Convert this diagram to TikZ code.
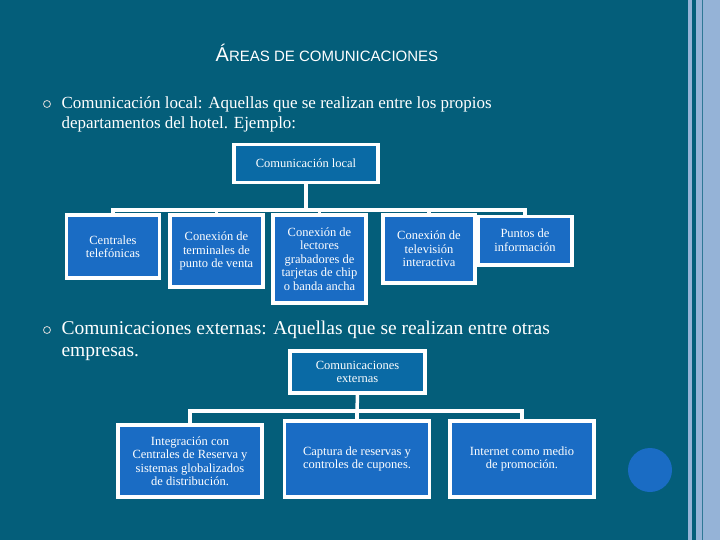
\documentclass[tikz,border=0pt]{standalone}
\usepackage{fontspec}
\setmainfont{Liberation Serif}
\newfontfamily\titlefont{Liberation Sans}
\begin{document}
\begin{tikzpicture}[x=1pt,y=-1pt,
  bx/.style={draw=white,line width=3.5pt,fill=boxc,text=white,align=center,inner sep=1pt,font=\fontsize{12.5}{13.5}\selectfont},
  ln/.style={draw=white,line width=3.5pt},
  bul/.style={draw=white!85!black,line width=0.8pt,circle,minimum size=7pt,inner sep=0pt}]
\definecolor{bg}{HTML}{045E7A}
\definecolor{boxc}{HTML}{1A6CC4}
\definecolor{topc}{HTML}{0A6AA5}
\definecolor{stripe}{HTML}{95B3D7}
\useasboundingbox (0,0) rectangle (720,540);
\fill[bg] (0,0) rectangle (720,540);
\fill[stripe] (688,0) rectangle (692,540);
\fill[stripe] (696,0) rectangle (720,540);
\draw[bg!70!stripe,line width=0.6pt] (702,0) -- (702,540);
\fill[boxc] (650,470) circle (22);
\node[text=white,font=\titlefont\fontsize{20}{22}\selectfont] (title) at (327,53) {Á{\fontsize{15}{18}\selectfont REAS DE COMUNICACIONES}};
\node[bul] (b1) at (47,104) {};
\node[anchor=north west,text=white,align=left,font=\fontsize{17}{20}\selectfont] (t1) at (58,93) {Comunicación local: Aquellas que se realizan entre los propios\\departamentos del hotel. Ejemplo:};
\node[bul] (b2) at (47,330) {};
\node[anchor=north west,text=white,align=left,font=\fontsize{19.5}{22}\selectfont] (t2) at (58,317) {Comunicaciones externas: Aquellas que se realizan entre otras\\empresas.};
% top tree
\node[bx,fill=topc,minimum width=144pt,minimum height=38pt] (cl) at (306,163.5) {Comunicación local};
\node[bx,minimum width=93pt,minimum height=63pt] (c1) at (113,246.5) {Centrales\\telefónicas};
\node[bx,minimum width=93pt,minimum height=72pt] (c2) at (216.5,251) {Conexión de\\terminales de\\punto de venta};
\node[bx,minimum width=93pt,minimum height=88pt] (c3) at (319.5,259) {Conexión de\\lectores\\grabadores de\\tarjetas de chip\\o banda ancha};
\node[bx,minimum width=92pt,minimum height=68pt] (c4) at (429,249) {Conexión de\\televisión\\interactiva};
\node[bx,minimum width=94pt,minimum height=48pt,anchor=north] (c5) at (525,215) {\\[-6pt]Puntos de\\información};
\coordinate (j1) at (306,210);
\draw[ln] (cl.south) -- (j1);
\foreach \n in {c1,c2,c3,c4,c5}{\draw[ln] (\n.north) -- (\n.north|-j1) -- (j1);}
% bottom tree
\node[bx,fill=topc,minimum width=135pt,minimum height=42pt] (ce) at (357.5,372) {Comunicaciones\\externas};
\node[bx,minimum width=144pt,minimum height=72pt] (d1) at (190,461) {Integración con\\Centrales de Reserva y\\sistemas globalizados\\de distribución.};
\node[bx,minimum width=145pt,minimum height=76pt] (d2) at (357,459) {Captura de reservas y\\controles de cupones.};
\node[bx,minimum width=144pt,minimum height=76pt] (d3) at (522,459) {Internet como medio\\de promoción.};
\coordinate (j2) at (357,411);
\draw[ln] (ce.south) -- (j2);
\foreach \n in {d1,d2,d3}{\draw[ln] (\n.north) -- (\n.north|-j2) -- (j2);}
\end{tikzpicture}
\end{document}
